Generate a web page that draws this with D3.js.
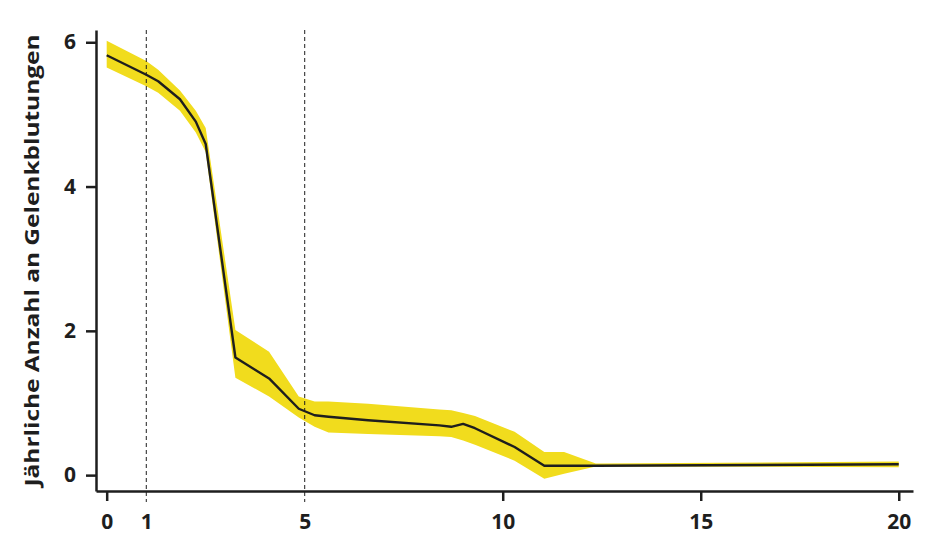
<!DOCTYPE html>
<html>
<head>
<meta charset="utf-8">
<script src="https://cdn.jsdelivr.net/npm/d3@7/dist/d3.min.js"></script>
<style>
  html, body { margin: 0; padding: 0; background: #fff; }
  svg { display: block; font-family: "Open Sans", "Noto Sans", sans-serif; }
</style>
</head>
<body>
<svg id="chart" width="940" height="560"></svg>
<script>
// ---- data ----
const years = [0, 1, 1.3, 1.85, 2.25, 2.5, 3.25, 4.1, 4.85, 5.25, 5.6, 6.6, 8.4, 8.7, 9.0, 9.3, 10.3, 11.05, 11.55, 12.35, 20];
const bleeds = [5.82, 5.55, 5.46, 5.21, 4.90, 4.59, 1.63, 1.34, 0.92, 0.83, 0.81, 0.76, 0.69, 0.67, 0.71, 0.65, 0.39, 0.13, 0.13, 0.13, 0.15];
const upper = [6.02, 5.74, 5.62, 5.33, 5.05, 4.81, 2.01, 1.71, 1.09, 1.02, 1.02, 0.99, 0.91, 0.90, 0.86, 0.82, 0.60, 0.32, 0.32, 0.16, 0.19];
const lower = [5.65, 5.39, 5.30, 5.05, 4.75, 4.48, 1.35, 1.09, 0.80, 0.67, 0.59, 0.57, 0.54, 0.53, 0.48, 0.42, 0.20, -0.05, 0.02, 0.12, 0.11];
const xTicks = [0, 1, 5, 10, 15, 20];
const yTicks = [0, 2, 4, 6];
const refLines = [1, 5];
const yLabel = "Jährliche Anzahl an Gelenkblutungen";

// ---- chart ----
const svg = d3.select("#chart");
const x = d3.scaleLinear().domain([-0.27, 20.36]).range([96, 913]);
const y = d3.scaleLinear().domain([-0.22, 6.17]).range([491, 30]);
const ink = "#1e1e1e";

const rows = years.map((t, i) => ({ t, v: bleeds[i], lo: lower[i], hi: upper[i] }));

// band
svg.append("path")
  .datum(rows)
  .attr("fill", "#f1dc1d")
  .attr("d", d3.area().x(d => x(d.t)).y0(d => y(d.lo)).y1(d => y(d.hi)));

// line
svg.append("path")
  .datum(rows)
  .attr("fill", "none")
  .attr("stroke", ink)
  .attr("stroke-width", 2.4)
  .attr("stroke-linejoin", "round")
  .attr("d", d3.line().x(d => x(d.t)).y(d => y(d.v)));

// reference dashed lines
svg.selectAll("line.ref")
  .data(refLines)
  .join("line")
  .attr("class", "ref")
  .attr("x1", d => x(d)).attr("x2", d => x(d))
  .attr("y1", y.range()[1]).attr("y2", y.range()[0] + 11)
  .attr("stroke", ink)
  .attr("stroke-width", 1)
  .attr("stroke-dasharray", "4,3");

// axes
const xAxis = svg.append("g")
  .attr("transform", `translate(0,${y.range()[0]})`)
  .call(d3.axisBottom(x).tickValues(xTicks).tickFormat(d3.format("d"))
    .tickSize(10).tickSizeOuter(0).tickPadding(13));
xAxis.selectAll(".tick").filter(d => refLines.includes(d)).select("line").remove();

const yAxis = svg.append("g")
  .attr("transform", `translate(${x.range()[0]},0)`)
  .call(d3.axisLeft(y).tickValues(yTicks).tickFormat(d3.format("d"))
    .tickSize(10).tickSizeOuter(0).tickPadding(10));

[xAxis, yAxis].forEach(g => {
  g.select(".domain").attr("stroke", ink).attr("stroke-width", 2.5);
  g.selectAll(".tick line").attr("stroke", ink).attr("stroke-width", 2.5);
  g.selectAll(".tick text")
    .attr("fill", ink)
    .style("font-size", "21px")
    .style("font-weight", 700)
    .style("font-family", "'Open Sans', 'Noto Sans', sans-serif");
});

// y label
svg.append("text")
  .attr("transform", `translate(39,${(y.range()[0] + y.range()[1]) / 2}) rotate(-90)`)
  .attr("text-anchor", "middle")
  .attr("fill", ink)
  .attr("textLength", 452)
  .attr("lengthAdjust", "spacingAndGlyphs")
  .style("font-size", "20px")
  .style("font-weight", 700)
  .text(yLabel);
</script>
</body>
</html>
